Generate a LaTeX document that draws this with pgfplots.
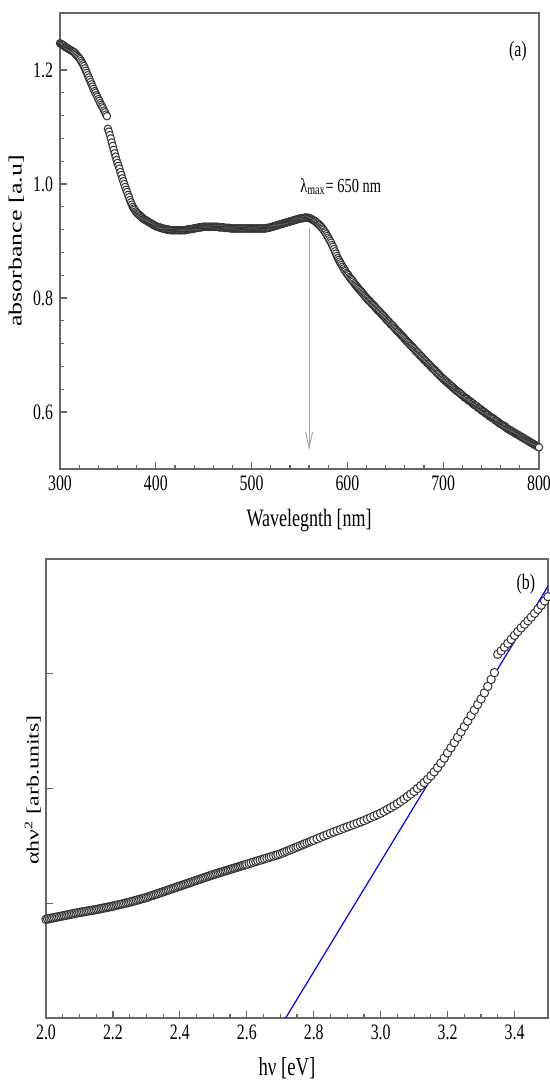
\documentclass[border=0pt]{standalone}
\usepackage{pgfplots}
\pgfplotsset{compat=1.18}
\usepackage{pgfplotstable}
\usepackage{graphicx}
\usepackage{fontspec}
\usetikzlibrary{arrows.meta}
\setmainfont{Liberation Serif}[FakeStretch=0.72]
\newfontfamily\uprightserif{Liberation Serif}

% Absorbance spectrum (wavelength in nm, absorbance in a.u.)
\pgfplotstableread[row sep=\\]{
wl A\\
300 1.247\\ 301 1.246\\ 302 1.245\\ 303 1.244\\ 304 1.243\\ 305 1.241\\ 306 1.240\\ 307 1.239\\ 308 1.238\\ 309 1.237\\
310 1.236\\ 311 1.235\\ 312 1.234\\ 313 1.233\\ 314 1.232\\ 315 1.231\\ 316 1.229\\ 317 1.227\\ 318 1.225\\ 319 1.223\\
320 1.221\\ 321 1.219\\ 322 1.216\\ 323 1.213\\ 324 1.210\\ 325 1.207\\ 326 1.203\\ 327 1.199\\ 328 1.195\\ 329 1.191\\
330 1.187\\ 331 1.183\\ 332 1.179\\ 333 1.175\\ 334 1.171\\ 335 1.167\\ 336 1.163\\ 337 1.160\\ 338 1.156\\ 339 1.153\\
340 1.149\\ 341 1.146\\ 342 1.142\\ 343 1.139\\ 344 1.136\\ 345 1.133\\ 346 1.129\\ 347 1.126\\ 348 1.122\\ 349 1.119\\
350 1.097\\ 351 1.092\\ 352 1.086\\ 353 1.080\\ 354 1.073\\ 355 1.067\\ 356 1.060\\ 357 1.054\\ 358 1.048\\ 359 1.042\\
360 1.037\\ 361 1.032\\ 362 1.027\\ 363 1.021\\ 364 1.016\\ 365 1.010\\ 366 1.005\\ 367 1.000\\ 368 0.995\\ 369 0.990\\
370 0.986\\ 371 0.981\\ 372 0.977\\ 373 0.972\\ 374 0.968\\ 375 0.964\\ 376 0.960\\ 377 0.957\\ 378 0.955\\ 379 0.952\\
380 0.950\\ 381 0.948\\ 382 0.947\\ 383 0.945\\ 384 0.944\\ 385 0.942\\ 386 0.941\\ 387 0.939\\ 388 0.938\\ 389 0.937\\
390 0.936\\ 391 0.935\\ 392 0.934\\ 393 0.933\\ 394 0.932\\ 395 0.931\\ 396 0.930\\ 397 0.929\\ 398 0.928\\ 399 0.927\\
400 0.926\\ 401 0.925\\ 402 0.925\\ 403 0.924\\ 404 0.924\\ 405 0.923\\ 406 0.923\\ 407 0.922\\ 408 0.922\\ 409 0.921\\
410 0.921\\ 411 0.920\\ 412 0.920\\ 413 0.920\\ 414 0.920\\ 415 0.919\\ 416 0.919\\ 417 0.919\\ 418 0.919\\ 419 0.919\\
420 0.919\\ 421 0.919\\ 422 0.919\\ 423 0.919\\ 424 0.919\\ 425 0.919\\ 426 0.919\\ 427 0.919\\ 428 0.919\\ 429 0.919\\
430 0.919\\ 431 0.919\\ 432 0.920\\ 433 0.920\\ 434 0.920\\ 435 0.921\\ 436 0.921\\ 437 0.921\\ 438 0.921\\ 439 0.922\\
440 0.922\\ 441 0.922\\ 442 0.923\\ 443 0.923\\ 444 0.923\\ 445 0.924\\ 446 0.924\\ 447 0.924\\ 448 0.924\\ 449 0.925\\
450 0.925\\ 451 0.925\\ 452 0.925\\ 453 0.925\\ 454 0.925\\ 455 0.925\\ 456 0.925\\ 457 0.925\\ 458 0.925\\ 459 0.925\\
460 0.925\\ 461 0.925\\ 462 0.925\\ 463 0.925\\ 464 0.925\\ 465 0.925\\ 466 0.924\\ 467 0.924\\ 468 0.924\\ 469 0.924\\
470 0.924\\ 471 0.924\\ 472 0.923\\ 473 0.923\\ 474 0.923\\ 475 0.923\\ 476 0.923\\ 477 0.923\\ 478 0.922\\ 479 0.922\\
480 0.922\\ 481 0.922\\ 482 0.922\\ 483 0.922\\ 484 0.922\\ 485 0.922\\ 486 0.922\\ 487 0.922\\ 488 0.922\\ 489 0.922\\
490 0.922\\ 491 0.922\\ 492 0.922\\ 493 0.922\\ 494 0.922\\ 495 0.922\\ 496 0.922\\ 497 0.922\\ 498 0.922\\ 499 0.922\\
500 0.922\\ 501 0.922\\ 502 0.922\\ 503 0.922\\ 504 0.922\\ 505 0.922\\ 506 0.922\\ 507 0.922\\ 508 0.922\\ 509 0.922\\
510 0.922\\ 511 0.922\\ 512 0.922\\ 513 0.922\\ 514 0.922\\ 515 0.922\\ 516 0.923\\ 517 0.923\\ 518 0.923\\ 519 0.924\\
520 0.924\\ 521 0.925\\ 522 0.925\\ 523 0.926\\ 524 0.926\\ 525 0.927\\ 526 0.927\\ 527 0.928\\ 528 0.928\\ 529 0.929\\
530 0.929\\ 531 0.930\\ 532 0.930\\ 533 0.931\\ 534 0.931\\ 535 0.932\\ 536 0.932\\ 537 0.933\\ 538 0.933\\ 539 0.934\\
540 0.934\\ 541 0.935\\ 542 0.935\\ 543 0.936\\ 544 0.936\\ 545 0.937\\ 546 0.937\\ 547 0.938\\ 548 0.938\\ 549 0.939\\
550 0.939\\ 551 0.940\\ 552 0.940\\ 553 0.940\\ 554 0.940\\ 555 0.941\\ 556 0.941\\ 557 0.941\\ 558 0.941\\ 559 0.941\\
560 0.940\\ 561 0.940\\ 562 0.939\\ 563 0.938\\ 564 0.937\\ 565 0.936\\ 566 0.935\\ 567 0.934\\ 568 0.932\\ 569 0.931\\
570 0.929\\ 571 0.928\\ 572 0.926\\ 573 0.924\\ 574 0.922\\ 575 0.920\\ 576 0.917\\ 577 0.915\\ 578 0.912\\ 579 0.909\\
580 0.906\\ 581 0.903\\ 582 0.900\\ 583 0.897\\ 584 0.893\\ 585 0.890\\ 586 0.886\\ 587 0.882\\ 588 0.878\\ 589 0.874\\
590 0.870\\ 591 0.867\\ 592 0.864\\ 593 0.861\\ 594 0.858\\ 595 0.855\\ 596 0.852\\ 597 0.849\\ 598 0.847\\ 599 0.844\\
600 0.842\\ 601 0.840\\ 602 0.837\\ 603 0.835\\ 604 0.833\\ 605 0.831\\ 606 0.829\\ 607 0.826\\ 608 0.824\\ 609 0.822\\
610 0.820\\ 611 0.818\\ 612 0.816\\ 613 0.814\\ 614 0.812\\ 615 0.810\\ 616 0.808\\ 617 0.806\\ 618 0.804\\ 619 0.802\\
620 0.800\\ 621 0.798\\ 622 0.796\\ 623 0.795\\ 624 0.793\\ 625 0.791\\ 626 0.789\\ 627 0.788\\ 628 0.786\\ 629 0.784\\
630 0.782\\ 631 0.780\\ 632 0.778\\ 633 0.777\\ 634 0.775\\ 635 0.773\\ 636 0.771\\ 637 0.770\\ 638 0.768\\ 639 0.766\\
640 0.764\\ 641 0.762\\ 642 0.760\\ 643 0.759\\ 644 0.757\\ 645 0.755\\ 646 0.753\\ 647 0.752\\ 648 0.750\\ 649 0.748\\
650 0.746\\ 651 0.744\\ 652 0.742\\ 653 0.741\\ 654 0.739\\ 655 0.737\\ 656 0.735\\ 657 0.734\\ 658 0.732\\ 659 0.730\\
660 0.728\\ 661 0.726\\ 662 0.724\\ 663 0.723\\ 664 0.721\\ 665 0.719\\ 666 0.717\\ 667 0.716\\ 668 0.714\\ 669 0.712\\
670 0.710\\ 671 0.708\\ 672 0.706\\ 673 0.705\\ 674 0.703\\ 675 0.701\\ 676 0.699\\ 677 0.698\\ 678 0.696\\ 679 0.694\\
680 0.692\\ 681 0.691\\ 682 0.689\\ 683 0.687\\ 684 0.685\\ 685 0.684\\ 686 0.682\\ 687 0.680\\ 688 0.678\\ 689 0.677\\
690 0.675\\ 691 0.674\\ 692 0.672\\ 693 0.670\\ 694 0.668\\ 695 0.667\\ 696 0.665\\ 697 0.663\\ 698 0.661\\ 699 0.660\\
700 0.658\\ 701 0.657\\ 702 0.655\\ 703 0.654\\ 704 0.652\\ 705 0.651\\ 706 0.649\\ 707 0.648\\ 708 0.646\\ 709 0.645\\
710 0.643\\ 711 0.642\\ 712 0.640\\ 713 0.639\\ 714 0.637\\ 715 0.636\\ 716 0.635\\ 717 0.634\\ 718 0.632\\ 719 0.631\\
720 0.629\\ 721 0.628\\ 722 0.626\\ 723 0.625\\ 724 0.624\\ 725 0.623\\ 726 0.621\\ 727 0.620\\ 728 0.619\\ 729 0.618\\
730 0.616\\ 731 0.615\\ 732 0.613\\ 733 0.612\\ 734 0.611\\ 735 0.610\\ 736 0.608\\ 737 0.607\\ 738 0.606\\ 739 0.605\\
740 0.603\\ 741 0.602\\ 742 0.601\\ 743 0.600\\ 744 0.598\\ 745 0.597\\ 746 0.596\\ 747 0.595\\ 748 0.593\\ 749 0.592\\
750 0.591\\ 751 0.590\\ 752 0.589\\ 753 0.588\\ 754 0.586\\ 755 0.585\\ 756 0.584\\ 757 0.583\\ 758 0.581\\ 759 0.580\\
760 0.579\\ 761 0.578\\ 762 0.577\\ 763 0.576\\ 764 0.575\\ 765 0.574\\ 766 0.572\\ 767 0.571\\ 768 0.570\\ 769 0.569\\
770 0.568\\ 771 0.567\\ 772 0.566\\ 773 0.565\\ 774 0.564\\ 775 0.563\\ 776 0.562\\ 777 0.561\\ 778 0.560\\ 779 0.559\\
780 0.558\\ 781 0.557\\ 782 0.556\\ 783 0.555\\ 784 0.554\\ 785 0.553\\ 786 0.552\\ 787 0.551\\ 788 0.550\\ 789 0.549\\
790 0.548\\ 791 0.547\\ 792 0.546\\ 793 0.545\\ 794 0.544\\ 795 0.543\\ 796 0.542\\ 797 0.541\\ 798 0.540\\ 799 0.539\\
800 0.538\\
}\absorbance

% Tauc plot (photon energy in eV, (alpha h nu)^2 in arb. units)
\pgfplotstableread[row sep=\\]{
hv T\\
2.000 0.860\\ 2.005 0.863\\ 2.010 0.866\\ 2.015 0.869\\ 2.020 0.872\\ 2.025 0.875\\ 2.030 0.878\\ 2.035 0.881\\
2.040 0.884\\ 2.045 0.887\\ 2.050 0.890\\ 2.055 0.893\\ 2.060 0.896\\ 2.065 0.899\\ 2.070 0.902\\ 2.075 0.905\\
2.080 0.908\\ 2.085 0.911\\ 2.090 0.914\\ 2.095 0.917\\ 2.100 0.920\\ 2.105 0.922\\ 2.110 0.925\\ 2.115 0.927\\
2.120 0.930\\ 2.125 0.932\\ 2.130 0.935\\ 2.135 0.937\\ 2.140 0.940\\ 2.145 0.942\\ 2.150 0.945\\ 2.155 0.948\\
2.160 0.951\\ 2.165 0.954\\ 2.170 0.957\\ 2.175 0.960\\ 2.180 0.963\\ 2.185 0.966\\ 2.190 0.969\\ 2.195 0.972\\
2.200 0.975\\ 2.205 0.978\\ 2.210 0.982\\ 2.215 0.985\\ 2.220 0.989\\ 2.225 0.992\\ 2.230 0.996\\ 2.235 0.999\\
2.240 1.003\\ 2.245 1.006\\ 2.250 1.010\\ 2.255 1.014\\ 2.260 1.018\\ 2.265 1.022\\ 2.270 1.026\\ 2.275 1.030\\
2.280 1.034\\ 2.285 1.038\\ 2.290 1.042\\ 2.295 1.046\\ 2.300 1.050\\ 2.305 1.055\\ 2.310 1.060\\ 2.315 1.065\\
2.320 1.070\\ 2.325 1.075\\ 2.330 1.080\\ 2.335 1.085\\ 2.340 1.090\\ 2.345 1.095\\ 2.350 1.100\\ 2.355 1.105\\
2.360 1.110\\ 2.365 1.115\\ 2.370 1.120\\ 2.375 1.125\\ 2.380 1.130\\ 2.385 1.135\\ 2.390 1.140\\ 2.395 1.145\\
2.400 1.150\\ 2.405 1.155\\ 2.410 1.160\\ 2.415 1.165\\ 2.420 1.170\\ 2.425 1.175\\ 2.430 1.180\\ 2.435 1.185\\
2.440 1.190\\ 2.445 1.195\\ 2.450 1.200\\ 2.455 1.205\\ 2.460 1.210\\ 2.465 1.215\\ 2.470 1.220\\ 2.475 1.225\\
2.480 1.230\\ 2.485 1.235\\ 2.490 1.240\\ 2.495 1.245\\ 2.500 1.250\\ 2.505 1.254\\ 2.510 1.259\\ 2.515 1.263\\
2.520 1.268\\ 2.525 1.272\\ 2.530 1.277\\ 2.535 1.281\\ 2.540 1.286\\ 2.545 1.290\\ 2.550 1.295\\ 2.555 1.299\\
2.560 1.304\\ 2.565 1.308\\ 2.570 1.313\\ 2.575 1.317\\ 2.580 1.322\\ 2.585 1.326\\ 2.590 1.331\\ 2.595 1.335\\
2.600 1.340\\ 2.607 1.346\\ 2.613 1.352\\ 2.620 1.358\\ 2.627 1.364\\ 2.633 1.370\\ 2.640 1.376\\ 2.647 1.382\\
2.653 1.388\\ 2.660 1.394\\ 2.667 1.400\\ 2.673 1.406\\ 2.680 1.412\\ 2.687 1.418\\ 2.693 1.424\\ 2.700 1.430\\
2.707 1.438\\ 2.713 1.446\\ 2.720 1.454\\ 2.727 1.462\\ 2.733 1.470\\ 2.740 1.478\\ 2.747 1.486\\ 2.753 1.494\\
2.760 1.502\\ 2.767 1.510\\ 2.773 1.518\\ 2.780 1.526\\ 2.787 1.534\\ 2.793 1.542\\ 2.800 1.550\\
2.81 1.562\\ 2.82 1.574\\ 2.83 1.586\\ 2.84 1.598\\ 2.85 1.610\\ 2.86 1.621\\ 2.87 1.632\\ 2.88 1.643\\
2.89 1.654\\ 2.90 1.665\\ 2.91 1.676\\ 2.92 1.687\\ 2.93 1.698\\ 2.94 1.709\\ 2.95 1.720\\ 2.96 1.733\\ 2.97 1.746\\
2.98 1.759\\ 2.99 1.772\\ 3.00 1.785\\ 3.01 1.801\\ 3.02 1.817\\ 3.03 1.833\\ 3.04 1.850\\ 3.05 1.868\\ 3.06 1.888\\
3.07 1.908\\ 3.08 1.930\\ 3.09 1.952\\ 3.10 1.975\\ 3.11 2.000\\ 3.12 2.025\\ 3.13 2.052\\ 3.14 2.080\\ 3.15 2.110\\
3.16 2.145\\ 3.17 2.182\\ 3.18 2.222\\ 3.19 2.265\\ 3.20 2.310\\ 3.21 2.355\\ 3.22 2.400\\ 3.23 2.446\\ 3.24 2.493\\
3.25 2.540\\ 3.26 2.588\\ 3.27 2.636\\ 3.28 2.684\\ 3.29 2.732\\ 3.30 2.780\\ 3.31 2.833\\ 3.32 2.890\\ 3.33 2.950\\
3.34 3.010\\ 3.35 3.170\\ 3.36 3.200\\ 3.37 3.232\\ 3.38 3.265\\ 3.39 3.300\\ 3.40 3.335\\ 3.41 3.368\\ 3.42 3.400\\
3.43 3.432\\ 3.44 3.462\\ 3.45 3.493\\ 3.46 3.527\\ 3.47 3.562\\ 3.48 3.598\\ 3.49 3.635\\ 3.50 3.672\\
}\tauc

\pgfplotsset{
  panel/.style={
    scale only axis,
    clip=false,
    axis line style={draw=black!60, line width=0.8pt},
    tick align=inside,
    xtick pos=bottom,
    ytick pos=left,
    major tick length=3.5pt,
    minor tick length=2pt,
    every tick/.style={draw=black!60, line width=0.6pt},
    tick label style={font=\fontsize{11}{12}\selectfont, text=black},
    /pgf/number format/assume math mode=true,
  },
  circ/.style={only marks, mark=*, mark options={fill=white, draw=black!80, line width=0.5pt}},
}

\begin{document}
\begin{tikzpicture}
\path[use as bounding box] (0,0) rectangle (275pt,-541.5pt);

% (a) absorbance spectrum
\begin{axis}[panel,
  at={(30pt,-234.5pt)}, anchor=south west,
  width=239.5pt, height=228pt,
  xmin=300, xmax=800, ymin=0.5, ymax=1.3,
  xtick={300,400,...,800}, minor x tick num=4,
  ytick={0.6,0.8,1.0,1.2}, minor y tick num=4,
  yticklabel style={/pgf/number format/.cd, fixed, fixed zerofill, precision=1},
  xlabel={Wavelegnth [nm]},
  xlabel style={at={(axis description cs:0.52,-0.114)}, anchor=center, font=\fontsize{12.5}{13}\selectfont},
  ylabel={\scalebox{1}[0.72]{\uprightserif\fontsize{13}{14}\selectfont absorbance [a.u]}},
  ylabel style={at={(axis description cs:-0.091,0.5)}, anchor=center},
]
\addplot[circ, mark size=1.85pt] table[x=wl, y=A] {\absorbance};
\draw[black!35, line width=0.5pt, -{Straight Barb[length=8pt, width=3.5pt]}]
  (axis cs:560,0.923) -- (axis cs:560,0.533);
\node[anchor=base west, font=\fontsize{10}{11}\selectfont, inner sep=0pt]
  at (axis cs:550.5,0.986) {λ\textsubscript{max}= 650 nm};
\node[font=\fontsize{11}{12}\selectfont] at (axis cs:778,1.233) {(a)};
\end{axis}

% (b) Tauc plot with linear extrapolation to the energy axis
\begin{axis}[panel,
  at={(23pt,-509pt)}, anchor=south west,
  width=251pt, height=229.5pt,
  xmin=2.0, xmax=3.5, ymin=0, ymax=4,
  xtick={2.0,2.2,...,3.4}, minor x tick num=3,
  xticklabel style={/pgf/number format/.cd, fixed, fixed zerofill, precision=1},
  ytick={1,2,3}, yticklabels={},
  xlabel={hν [eV]},
  xlabel style={at={(axis description cs:0.48,-0.110)}, anchor=center, font=\fontsize{13}{14}\selectfont},
  ylabel={\scalebox{1}[0.72]{\uprightserif\fontsize{12}{13}\selectfont αhν\textsuperscript{2} [arb.units]}},
  ylabel style={at={(axis description cs:-0.026,0.497)}, anchor=center},
]
\addplot[circ, mark size=2.1pt] table[x=hv, y=T] {\tauc};
\addplot[blue, line width=0.6pt] coordinates {(2.716,0) (3.5,3.763)};
\node[font=\fontsize{11}{12}\selectfont] at (axis cs:3.434,3.78) {(b)};
\end{axis}
\end{tikzpicture}
\end{document}
